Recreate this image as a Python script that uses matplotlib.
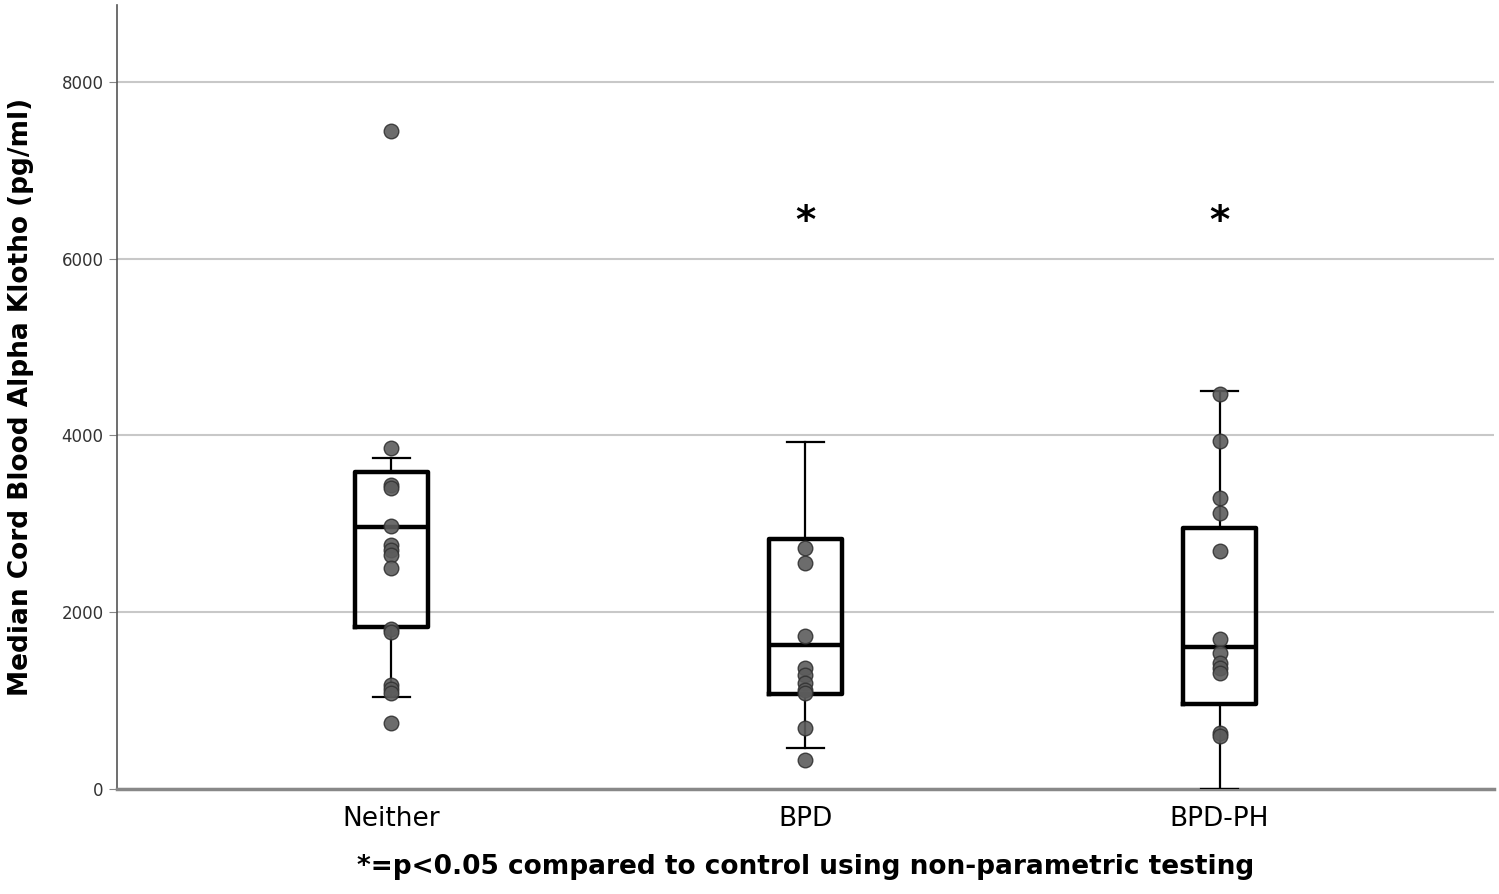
import numpy as np
import matplotlib.pyplot as plt

groups = ["Neither", "BPD", "BPD-PH"]

# box statistics (pg/ml)
q1 = [1830, 1075, 958]
med = [2960, 1630, 1610]
q3 = [3590, 2825, 2950]
whislo = [1045, 460, 0]
whishi = [3750, 3930, 4507]

neither_pts = [7445, 3855, 3440, 3406, 2976, 2761, 2704, 2648, 2504, 1807, 1780, 1177, 1128, 1083, 750]
bpd_pts = [2723, 2560, 1731, 1366, 1290, 1196, 1120, 1083, 687, 328]
bpdph_pts = [4470, 3941, 3289, 3127, 2697, 1694, 1542, 1422, 1366, 1309, 630, 595]
points = [neither_pts, bpd_pts, bpdph_pts]

sig = [False, True, True]

fig = plt.figure(figsize=(14.99, 8.94), dpi=100)
ax = fig.add_axes([0.078, 0.1174, 0.9187, 0.877])

stats = []
for i in range(3):
    stats.append({"med": med[i], "q1": q1[i], "q3": q3[i],
                  "whislo": whislo[i], "whishi": whishi[i], "fliers": []})

ax.bxp(stats, positions=range(3), widths=0.175, showfliers=False,
       boxprops=dict(color="black", linewidth=3.2),
       medianprops=dict(color="black", linewidth=3.2),
       whiskerprops=dict(color="black", linewidth=1.6),
       capprops=dict(color="black", linewidth=1.6), zorder=3)

for i, pts in enumerate(points):
    ax.scatter(np.full(len(pts), i), pts, s=110, color="#5c5c5c",
               edgecolor="#333333", linewidth=1, alpha=0.9, zorder=4)
    if sig[i]:
        ax.text(i, 6420, "*", ha="center", va="center", fontsize=28,
                fontweight="bold")

ax.set_xlim(-0.663, 2.663)
ax.set_ylim(0, 8870)
ax.set_yticks([0, 2000, 4000, 6000, 8000])
ax.yaxis.grid(True, color="#c8c8c8", linewidth=1.5)
ax.set_axisbelow(True)
ax.set_xticks(range(3))
ax.set_xticklabels(groups, fontsize=19)
ax.tick_params(axis="y", labelsize=12, labelcolor="#333333", length=6, color="#888888")
ax.tick_params(axis="x", length=0, pad=12)

for s in ["top", "right"]:
    ax.spines[s].set_visible(False)
ax.spines["left"].set_color("#555555")
ax.spines["left"].set_linewidth(1.2)
ax.spines["bottom"].set_color("#888888")
ax.spines["bottom"].set_linewidth(2.5)

ax.set_ylabel("Median Cord Blood Alpha Klotho (pg/ml)", fontsize=19, fontweight="bold")
ax.yaxis.set_label_coords(-0.06, 0.5)
ax.set_xlabel("*=p<0.05 compared to control using non-parametric testing", fontsize=19,
              fontweight="bold", labelpad=16)

fig.savefig("out.png", dpi=100)
